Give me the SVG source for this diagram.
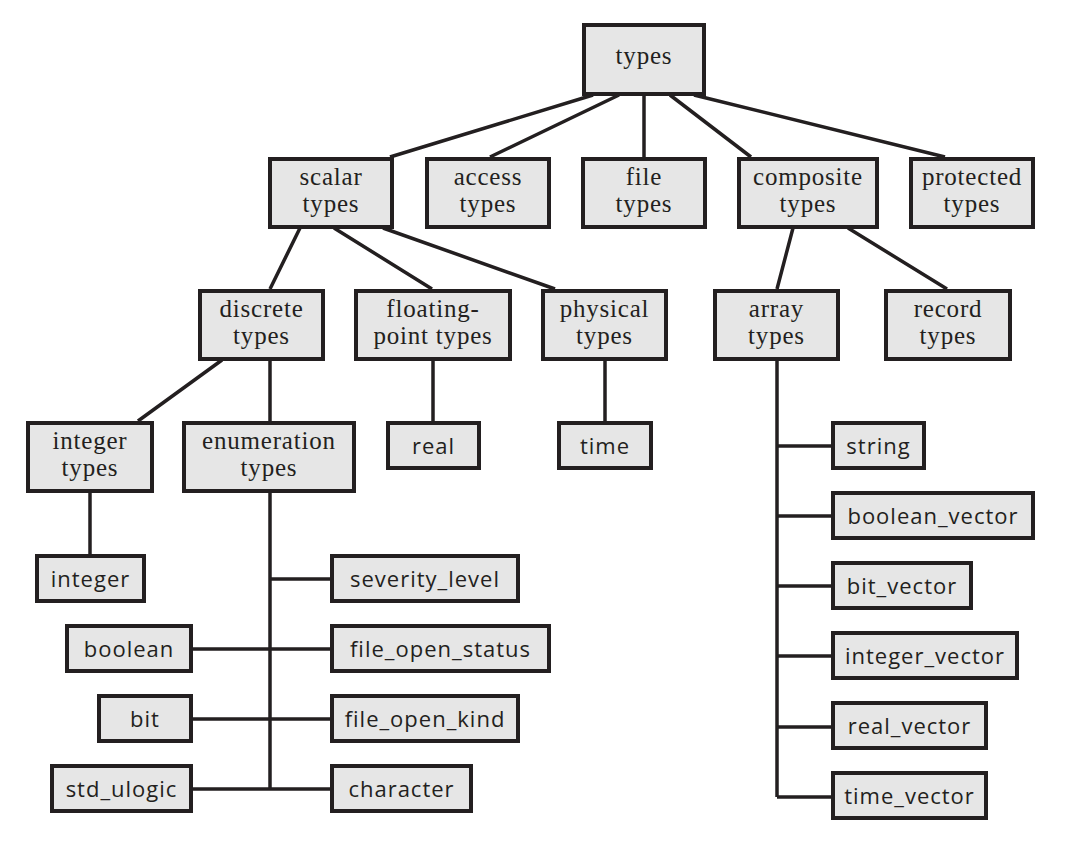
<svg xmlns="http://www.w3.org/2000/svg" width="1066" height="842" viewBox="0 0 1066 842">
<style>
.box{fill:#e6e6e6;stroke:#231f20;stroke-width:4}
.cat{font-family:"Liberation Serif",serif;font-size:25px;letter-spacing:0.8px;fill:#231f20;text-anchor:middle}
.leaf{font-family:"Open Sans","Liberation Sans",sans-serif;font-size:22px;letter-spacing:1px;fill:#231f20;text-anchor:middle}
.conn path{fill:none;stroke:#231f20;stroke-width:3.5}
</style>
<rect width="1066" height="842" fill="#ffffff"/>
<g class="conn" id="connectors">
<path d="M593,95 L390,157 M619,95 L490,157 M644,95 V157 M670,95 L751,157 M694,95 L945,157"/>
<path d="M300,228 L270,289 M334,228 L432,289 M383,228 L555,289"/>
<path d="M793,228 L777,289 M848,228 L947,289"/>
<path d="M222,360 L138,421 M270,360 V421"/>
<path d="M433,360 V421 M605,360 V421"/>
<path d="M90,492 V554"/>
<path d="M270,492 V789 M270,579 H330 M193,649 H330 M193,719 H330 M193,789 H330"/>
<path d="M777,360 V797 M777,446 H831 M777,516 H831 M777,586 H831 M777,656 H831 M777,727 H831 M777,797 H831"/>
</g>
<g id="n-types"><rect class="box" x="584" y="25" width="120" height="69"/><text class="cat" x="644" y="64">types</text></g>
<g id="n-scalar"><rect class="box" x="270" y="159" width="122" height="68"/><text class="cat" x="331" y="185">scalar</text><text class="cat" x="331" y="212">types</text></g>
<g id="n-access"><rect class="box" x="427" y="159" width="122" height="68"/><text class="cat" x="488" y="185">access</text><text class="cat" x="488" y="212">types</text></g>
<g id="n-file"><rect class="box" x="583" y="159" width="122" height="68"/><text class="cat" x="644" y="185">file</text><text class="cat" x="644" y="212">types</text></g>
<g id="n-composite"><rect class="box" x="739" y="159" width="138" height="68"/><text class="cat" x="808" y="185">composite</text><text class="cat" x="808" y="212">types</text></g>
<g id="n-protected"><rect class="box" x="911" y="159" width="122" height="68"/><text class="cat" x="972" y="185">protected</text><text class="cat" x="972" y="212">types</text></g>
<g id="n-discrete"><rect class="box" x="200" y="291" width="123" height="68"/><text class="cat" x="261.5" y="317">discrete</text><text class="cat" x="261.5" y="344">types</text></g>
<g id="n-floating"><rect class="box" x="356" y="291" width="154" height="68"/><text class="cat" x="433" y="317">floating-</text><text class="cat" x="433" y="344">point types</text></g>
<g id="n-physical"><rect class="box" x="543" y="291" width="123" height="68"/><text class="cat" x="604.5" y="317">physical</text><text class="cat" x="604.5" y="344">types</text></g>
<g id="n-array"><rect class="box" x="715" y="291" width="123" height="68"/><text class="cat" x="776.5" y="317">array</text><text class="cat" x="776.5" y="344">types</text></g>
<g id="n-record"><rect class="box" x="886" y="291" width="124" height="68"/><text class="cat" x="948" y="317">record</text><text class="cat" x="948" y="344">types</text></g>
<g id="n-integer-types"><rect class="box" x="28" y="423" width="124" height="68"/><text class="cat" x="90" y="449">integer</text><text class="cat" x="90" y="476">types</text></g>
<g id="n-enumeration"><rect class="box" x="184" y="423" width="170" height="68"/><text class="cat" x="269" y="449">enumeration</text><text class="cat" x="269" y="476">types</text></g>
<g id="n-real"><rect class="box" x="388" y="423" width="91" height="45"/><text class="leaf" x="433.5" y="454">real</text></g>
<g id="n-time"><rect class="box" x="559" y="423" width="92" height="45"/><text class="leaf" x="605" y="454">time</text></g>
<g id="n-integer"><rect class="box" x="37" y="556" width="107" height="45"/><text class="leaf" x="90.5" y="587">integer</text></g>
<g id="n-severity_level"><rect class="box" x="332" y="556" width="186" height="45"/><text class="leaf" x="425" y="587">severity_level</text></g>
<g id="n-boolean"><rect class="box" x="67" y="626" width="124" height="45"/><text class="leaf" x="129" y="657">boolean</text></g>
<g id="n-file_open_status"><rect class="box" x="332" y="626" width="217" height="45"/><text class="leaf" x="440.5" y="657">file_open_status</text></g>
<g id="n-bit"><rect class="box" x="99" y="696" width="92" height="45"/><text class="leaf" x="145" y="727">bit</text></g>
<g id="n-file_open_kind"><rect class="box" x="332" y="696" width="186" height="45"/><text class="leaf" x="425" y="727">file_open_kind</text></g>
<g id="n-std_ulogic"><rect class="box" x="52" y="766" width="139" height="45"/><text class="leaf" x="121.5" y="797">std_ulogic</text></g>
<g id="n-character"><rect class="box" x="332" y="766" width="139" height="45"/><text class="leaf" x="401.5" y="797">character</text></g>
<g id="n-string"><rect class="box" x="833" y="423" width="91" height="45"/><text class="leaf" x="878.5" y="454">string</text></g>
<g id="n-boolean_vector"><rect class="box" x="833" y="493" width="200" height="45"/><text class="leaf" x="933" y="524">boolean_vector</text></g>
<g id="n-bit_vector"><rect class="box" x="833" y="563" width="138" height="45"/><text class="leaf" x="902" y="594">bit_vector</text></g>
<g id="n-integer_vector"><rect class="box" x="833" y="633" width="184" height="45"/><text class="leaf" x="925" y="664">integer_vector</text></g>
<g id="n-real_vector"><rect class="box" x="833" y="703" width="153" height="45"/><text class="leaf" x="909.5" y="734">real_vector</text></g>
<g id="n-time_vector"><rect class="box" x="833" y="773" width="153" height="45"/><text class="leaf" x="909.5" y="804">time_vector</text></g>
</svg>
